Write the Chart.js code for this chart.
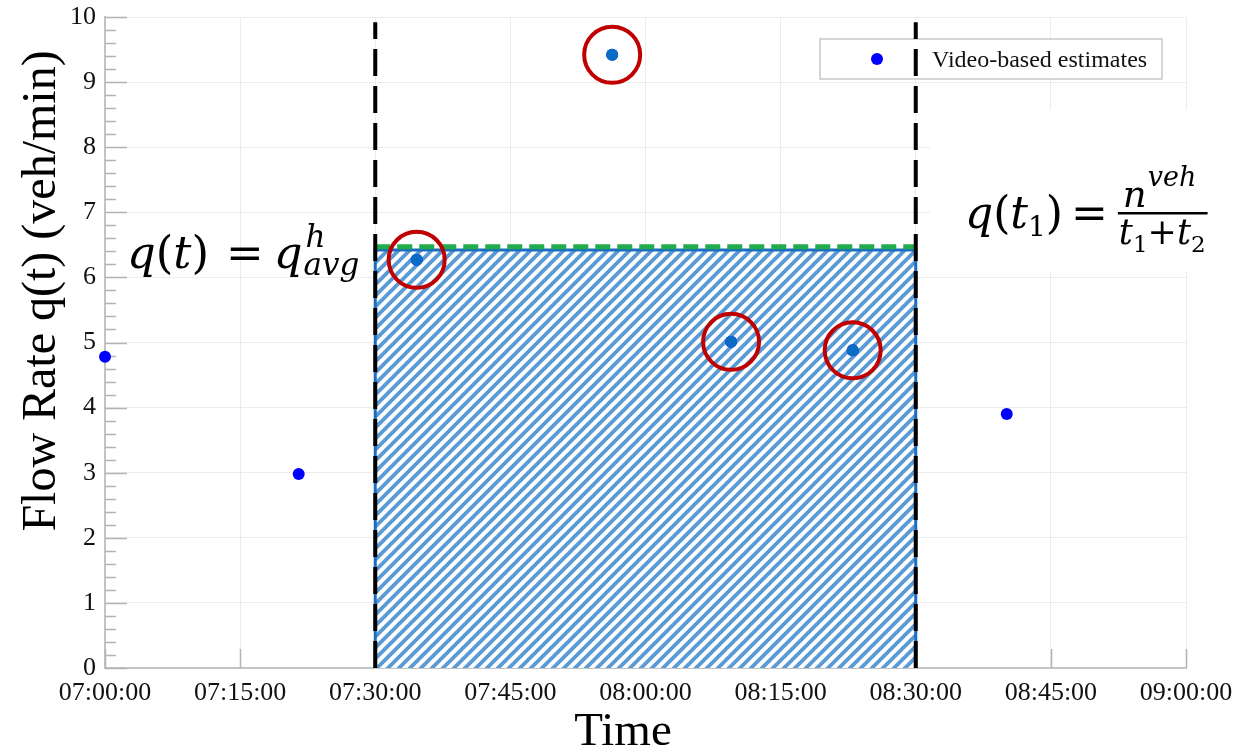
<!DOCTYPE html>
<html>
<head>
<meta charset="utf-8">
<script src="https://cdn.jsdelivr.net/npm/chart.js@4.4.1/dist/chart.umd.min.js"></script>
<style>
  html, body { margin: 0; padding: 0; background: #fff; }
  #wrap { width: 1258px; height: 750px; }
</style>
</head>
<body>
<div id="wrap"><canvas id="chart" width="1258" height="750"></canvas></div>
<script>
// x values are minutes after 07:00
const tickMinutes = [0, 15, 30, 45, 60, 75, 90, 105, 120];
const tickLabels = ["07:00:00", "07:15:00", "07:30:00", "07:45:00", "08:00:00",
                    "08:15:00", "08:30:00", "08:45:00", "09:00:00"];

// video-based flow estimates (veh/min)
const estMinutes = [0, 21.5, 34.6, 56.3, 69.5, 83.0, 100.1];
const estFlow    = [4.78, 2.98, 6.27, 9.42, 5.01, 4.88, 3.90];
const circledIdx = [2, 3, 4, 5];   // points marked with a red ring

// averaging window and its average flow
const windowStart = 30;
const windowEnd = 90;
const avgFlow = 6.42;      // hatched block height
const greenFlow = 6.47;    // dashed green level
const dashTop = 9.92;      // top of the black dashed window bounds

const serif = "'Liberation Serif', 'Times New Roman', serif";
const mathFont = "'DejaVu Serif', serif";

// diagonal hatch for the averaging block
function hatchPattern() {
  const p = 11;
  const c = document.createElement("canvas");
  c.width = p; c.height = p;
  const g = c.getContext("2d");
  g.fillStyle = "#ffffff";
  g.fillRect(0, 0, p, p);
  g.strokeStyle = "#5b9bd5";
  g.lineWidth = 3.8;
  g.beginPath();
  g.moveTo(0, p); g.lineTo(p, 0);
  g.moveTo(-3, 3); g.lineTo(3, -3);
  g.moveTo(p - 3, p + 3); g.lineTo(p + 3, p - 3);
  g.stroke();
  return document.getElementById("chart").getContext("2d").createPattern(c, "repeat");
}

const estPoints = estMinutes.map((m, i) => ({ x: m, y: estFlow[i] }));
const circledPoints = circledIdx.map(i => estPoints[i]);

// draws a run of text pieces left to right, returns end x
function drawRun(ctx, x, y, parts) {
  parts.forEach(p => {
    ctx.font = (p.it ? "italic " : "") + p.s + "px " + mathFont;
    ctx.fillText(p.t, x + (p.dx || 0), y + (p.dy || 0));
    x += ctx.measureText(p.t).width + (p.dx || 0) + (p.gap || 0);
  });
  return x;
}

const decorPlugin = {
  id: "decor",
  beforeDatasetsDraw(chart) {
    const ctx = chart.ctx;
    const a = chart.chartArea;
    const xs = chart.scales.x, ys = chart.scales.y;
    ctx.save();
    // inward tick marks
    ctx.strokeStyle = "#b4b4b4";
    ctx.lineWidth = 1.5;
    ctx.beginPath();
    for (let k = 0; k <= 50; k++) {
      const v = k / 5;
      const py = Math.round(ys.getPixelForValue(v)) + 0.5;
      const len = (k % 5 === 0) ? 22 : 11;
      ctx.moveTo(a.left, py); ctx.lineTo(a.left + len, py);
    }
    tickMinutes.forEach(m => {
      const px = Math.round(xs.getPixelForValue(m)) + 0.5;
      ctx.moveTo(px, a.bottom); ctx.lineTo(px, a.bottom - 19);
    });
    ctx.stroke();

    // legend
    const ds = chart.data.datasets[1];
    const lx = a.right - 366, ly = a.top + 22;
    ctx.fillStyle = "#ffffff";
    ctx.fillRect(lx, ly, 342, 40);
    ctx.strokeStyle = "#c8c8c8";
    ctx.lineWidth = 1.5;
    ctx.strokeRect(lx, ly, 342, 40);
    ctx.fillStyle = ds.backgroundColor;
    ctx.beginPath();
    ctx.arc(lx + 57, ly + 20, 6, 0, Math.PI * 2);
    ctx.fill();
    ctx.fillStyle = "#111";
    ctx.font = "24px " + serif;
    ctx.textBaseline = "alphabetic";
    ctx.fillText(ds.label, lx + 112, ly + 28);
    ctx.restore();
  },
  afterDatasetsDraw(chart) {
    const ctx = chart.ctx;
    ctx.save();
    ctx.fillStyle = "#000";
    ctx.textBaseline = "alphabetic";

    // left annotation: q(t) = q^h_avg
    let x = drawRun(ctx, 127, 268, [
      { t: "q", it: true, s: 45 }, { t: "(", s: 45 }, { t: "t", it: true, s: 45 },
      { t: ")", s: 45, gap: 17 }, { t: "=", s: 45, gap: 10 }, { t: "q", it: true, s: 45 }
    ]);
    drawRun(ctx, x + 3, 247, [{ t: "h", it: true, s: 31 }]);
    drawRun(ctx, x + 1, 275, [{ t: "avg", it: true, s: 31 }]);

    // right annotation: q(t1) = n^veh / (t1 + t2)
    ctx.fillStyle = "#ffffff";
    ctx.fillRect(930, 110, 328, 162);
    ctx.fillStyle = "#000";
    x = drawRun(ctx, 965, 228, [
      { t: "q", it: true, s: 44 }, { t: "(", s: 44 }, { t: "t", it: true, s: 44 },
      { t: "1", s: 28, dy: 8 }, { t: ")", s: 44, gap: 8 }, { t: "=", s: 44, gap: 10 }
    ]);
    const fx = x;
    const nx = drawRun(ctx, fx + 5, 207, [{ t: "n", it: true, s: 37 }]);
    const vx = drawRun(ctx, nx + 1, 186, [{ t: "veh", it: true, s: 27 }]);
    const dx = drawRun(ctx, fx + 1, 244, [
      { t: "t", it: true, s: 35 }, { t: "1", s: 23, dy: 8 }, { t: "+", s: 35 },
      { t: "t", it: true, s: 35 }, { t: "2", s: 23, dy: 8 }
    ]);
    ctx.fillRect(fx, 212, Math.max(dx, vx) - fx + 2, 2.5);

    // axis titles
    ctx.font = "47px " + serif;
    ctx.textAlign = "center";
    ctx.fillText("Time", 623, 745);
    ctx.font = "48px " + serif;
    ctx.translate(55, 291);
    ctx.rotate(-Math.PI / 2);
    ctx.fillText("Flow Rate q(t) (veh/min)", 0, 0);
    ctx.restore();
  }
};

const chart = new Chart(document.getElementById("chart"), {
  type: "scatter",
  data: {
    datasets: [
      {
        // highlighted estimates with red rings
        label: "highlighted",
        data: circledPoints,
        pointRadius: 6,
        pointBackgroundColor: "#0a6cc4",
        pointBorderWidth: 0,
        clip: false
      },
      {
        label: "Video-based estimates",
        data: estPoints,
        backgroundColor: "#0000ff",
        pointRadius: 6,
        pointBorderWidth: 0,
        clip: false
      },
      {
        label: "rings",
        data: circledPoints,
        pointRadius: 28,
        pointBackgroundColor: "rgba(0,0,0,0)",
        pointBorderColor: "#c00000",
        pointBorderWidth: 4,
        clip: false
      },
      {
        label: "start",
        type: "line",
        data: [{ x: windowStart, y: 0 }, { x: windowStart, y: dashTop }],
        borderColor: "#000",
        borderWidth: 4,
        borderDash: [27, 10],
        pointRadius: 0
      },
      {
        label: "end",
        type: "line",
        data: [{ x: windowEnd, y: 0 }, { x: windowEnd, y: dashTop }],
        borderColor: "#000",
        borderWidth: 4,
        borderDash: [27, 10],
        pointRadius: 0
      },
      {
        label: "level",
        type: "line",
        data: [{ x: windowStart, y: greenFlow }, { x: windowEnd, y: greenFlow }],
        borderColor: "#21ad4b",
        borderWidth: 5,
        borderDash: [15, 7],
        pointRadius: 0
      },
      {
        label: "block",
        type: "line",
        data: [{ x: windowStart, y: 0 }, { x: windowStart, y: avgFlow },
               { x: windowEnd, y: avgFlow }, { x: windowEnd, y: 0 }],
        borderColor: "#1c6dbf",
        borderWidth: 3,
        backgroundColor: hatchPattern(),
        fill: "origin",
        pointRadius: 0,
        tension: 0
      }
    ]
  },
  options: {
    responsive: false,
    animation: false,
    events: [],
    layout: { autoPadding: false, padding: { top: 17, right: 72, left: 0, bottom: 0 } },
    plugins: { legend: { display: false }, tooltip: { enabled: false } },
    scales: {
      x: {
        type: "linear",
        min: 0,
        max: 120,
        afterBuildTicks: s => { s.ticks = tickMinutes.map(v => ({ value: v })); },
        afterFit: s => { s.height = 82; },
        ticks: {
          callback: (v, i) => tickLabels[i],
          font: { family: serif, size: 26 },
          color: "#111",
          padding: 10,
          maxRotation: 0,
          autoSkip: false
        },
        grid: { color: "#ececec", drawTicks: false },
        border: { color: "#c4c4c4", width: 2 }
      },
      y: {
        min: 0,
        max: 10,
        afterFit: s => { s.width = 105; s.paddingTop = 0; s.paddingBottom = 0; },
        ticks: {
          stepSize: 1,
          font: { family: serif, size: 26 },
          color: "#111",
          padding: 9
        },
        grid: { color: "#ececec", drawTicks: false },
        border: { color: "#c4c4c4", width: 2 }
      }
    }
  },
  plugins: [decorPlugin]
});
</script>
</body>
</html>
